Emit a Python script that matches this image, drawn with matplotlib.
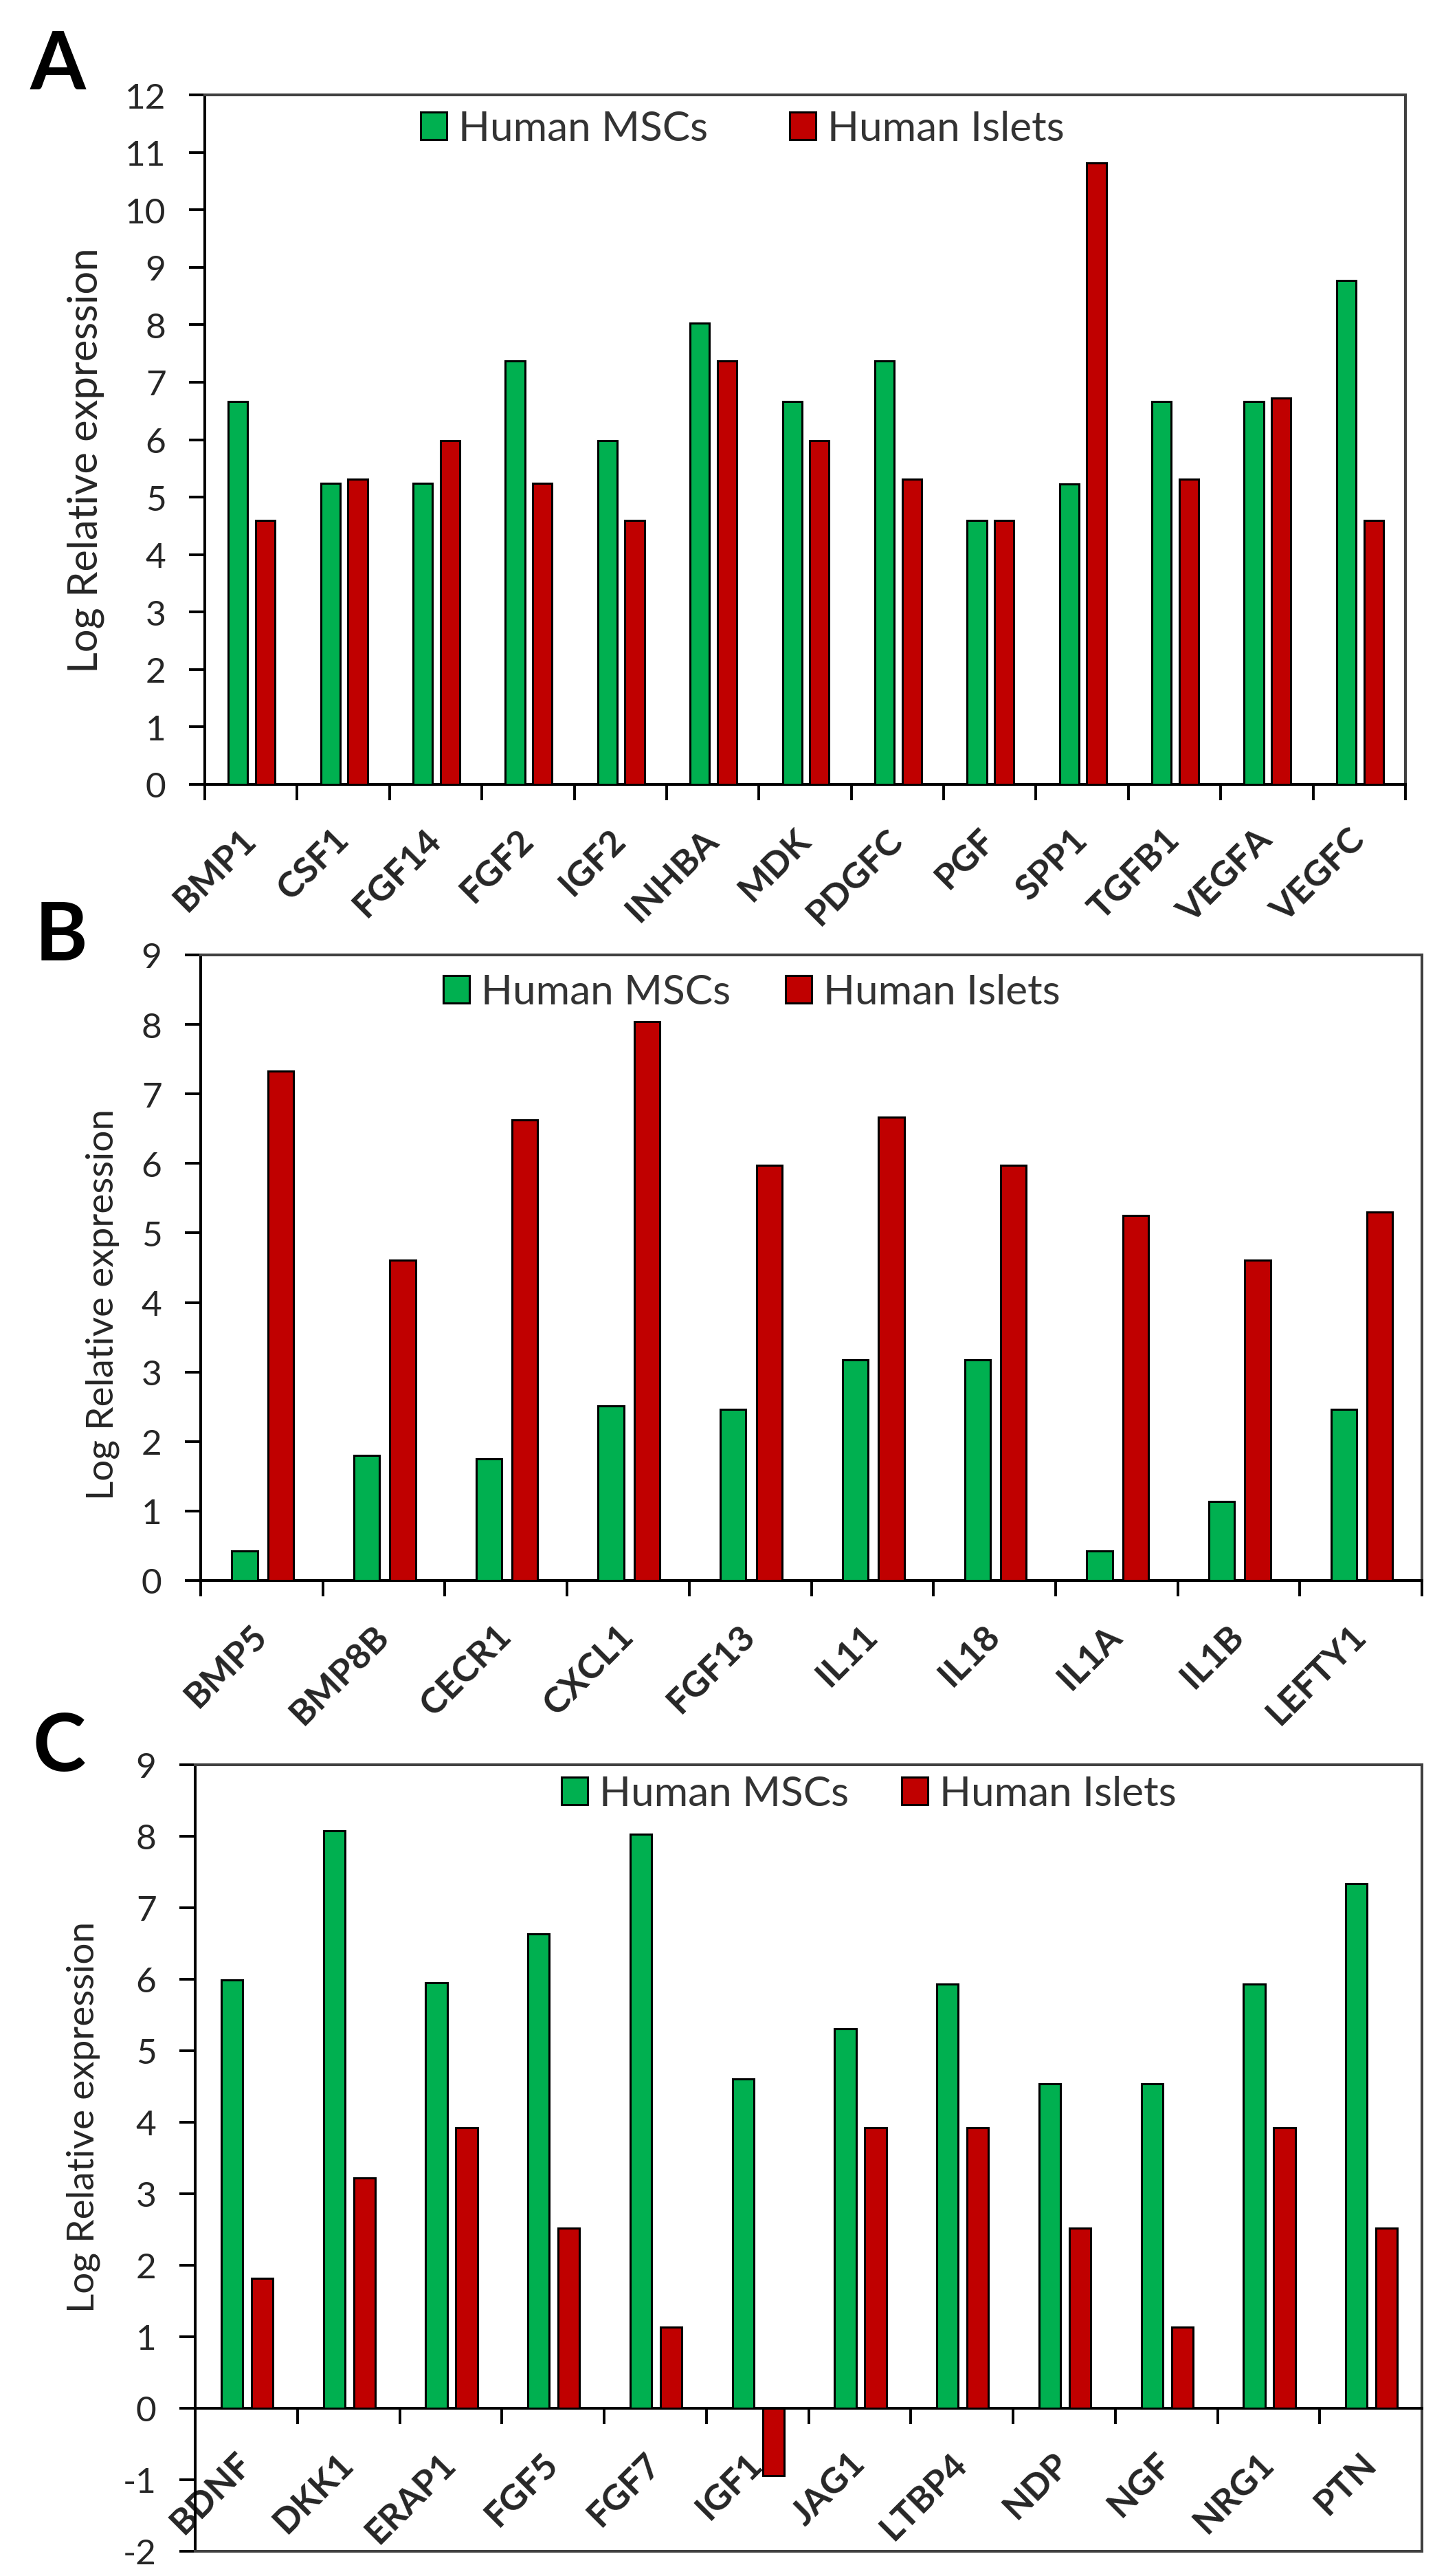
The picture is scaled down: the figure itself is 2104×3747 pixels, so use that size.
import numpy as np
import matplotlib.pyplot as plt

plt.rcParams['font.family'] = ['Lato', 'DejaVu Sans']
plt.rcParams['axes.unicode_minus'] = False

# panel A
genes_a = ['BMP1', 'CSF1', 'FGF14', 'FGF2', 'IGF2', 'INHBA', 'MDK',
           'PDGFC', 'PGF', 'SPP1', 'TGFB1', 'VEGFA', 'VEGFC']
msc_a = [6.66, 5.24, 5.24, 7.37, 5.98, 8.03, 6.66, 7.37, 4.59, 5.23, 6.66, 6.66, 8.77]
islet_a = [4.59, 5.31, 5.98, 5.24, 4.59, 7.37, 5.98, 5.31, 4.59, 10.82, 5.31, 6.72, 4.59]

# panel B
genes_b = ['BMP5', 'BMP8B', 'CECR1', 'CXCL1', 'FGF13', 'IL11', 'IL18',
           'IL1A', 'IL1B', 'LEFTY1']
msc_b = [0.43, 1.80, 1.75, 2.51, 2.46, 3.17, 3.17, 0.43, 1.14, 2.46]
islet_b = [7.33, 4.61, 6.63, 8.04, 5.97, 6.67, 5.97, 5.25, 4.61, 5.30]

# panel C
genes_c = ['BDNF', 'DKK1', 'ERAP1', 'FGF5', 'FGF7', 'IGF1', 'JAG1',
           'LTBP4', 'NDP', 'NGF', 'NRG1', 'PTN']
msc_c = [5.99, 8.08, 5.95, 6.63, 8.03, 4.61, 5.31, 5.93, 4.54, 4.54, 5.93, 7.34]
islet_c = [1.82, 3.22, 3.92, 2.52, 1.13, -0.94, 3.92, 3.92, 2.52, 1.13, 3.92, 2.52]

GREEN = '#00B050'
RED = '#C00000'
TXT = '#262626'

W, H = 2104, 3748
fig = plt.figure(figsize=(W / 200, H / 200), dpi=200)


def panel(box, genes, msc, islets, ylim, letter, letter_xy, ylab_xy, ylab_size,
          leg_xy, colspace):
    l, r, t, b = box
    ax = fig.add_axes([l / W, 1 - b / H, (r - l) / W, (b - t) / H])
    # zero line carries the category ticks when the axis goes negative
    if ylim[0] < 0:
        ax.spines['bottom'].set_position(('data', 0))
        ax.axhline(ylim[0], color='#404040', lw=1.45, clip_on=False, zorder=4)

    x = np.arange(len(genes))
    ax.bar(x - 0.14, msc, 0.21, color=GREEN, edgecolor='black', lw=1.1,
           label='Human MSCs', zorder=3)
    ax.bar(x + 0.155, islets, 0.21, color=RED, edgecolor='black', lw=1.1,
           label='Human Islets', zorder=3)
    ax.set_xlim(-0.5, len(genes) - 0.5)
    ax.set_ylim(*ylim)
    ax.set_yticks(range(ylim[0], ylim[1] + 1))

    # boundary ticks (major) and gene labels (minor)
    ax.set_xticks(np.arange(len(genes) + 1) - 0.5, [''] * (len(genes) + 1))
    ax.set_xticks(x, genes, minor=True, rotation=45, ha='right', va='center',
                  rotation_mode='anchor', fontweight='bold', fontsize=18.8,
                  color=TXT)
    ax.tick_params(axis='x', which='major', length=8.3, width=1.4, direction='out')
    ax.tick_params(axis='x', which='minor', length=0, pad=26)
    ax.tick_params(axis='y', length=8.3, width=1.4, direction='out', pad=12,
                   labelsize=18.5, labelcolor=TXT)

    for s in ax.spines.values():
        s.set_linewidth(1.45)
    ax.spines['top'].set_color('#404040')
    ax.spines['right'].set_color('#404040')

    ax.set_ylabel('Log Relative expression', fontsize=ylab_size, color=TXT)
    ax.yaxis.set_label_coords(ylab_xy[0] / W, 1 - ylab_xy[1] / H,
                              transform=fig.transFigure)

    lx = (leg_xy[0] - l) / (r - l)
    ly = 1 - (leg_xy[1] - t) / (b - t)
    ax.legend(loc='center left', bbox_to_anchor=(lx, ly), ncol=2, frameon=False,
              fontsize=21.7, handlelength=0.63, handleheight=0.63,
              handletextpad=0.28, columnspacing=colspace, borderpad=0,
              borderaxespad=0, labelcolor='#333333')

    fig.text(letter_xy[0] / W, 1 - letter_xy[1] / H, letter, fontsize=42,
             fontweight='bold', ha='left', va='baseline', color='black')
    return ax


panel((298, 2045, 139, 1142), genes_a, msc_a, islet_a, (0, 12), 'A',
      (44, 130), (152, 670), 21.5, (612, 188), 1.97)
panel((292, 2069, 1390, 2300), genes_b, msc_b, islet_b, (0, 9), 'B',
      (51, 1397), (174, 1897), 19.8, (645, 1444), 1.33)
panel((284, 2069, 2568, 3712), genes_c, msc_c, islet_c, (-2, 9), 'C',
      (47, 2576), (146, 3079), 19.8, (817, 2610), 1.28)

plt.savefig('out.png', dpi=200)
